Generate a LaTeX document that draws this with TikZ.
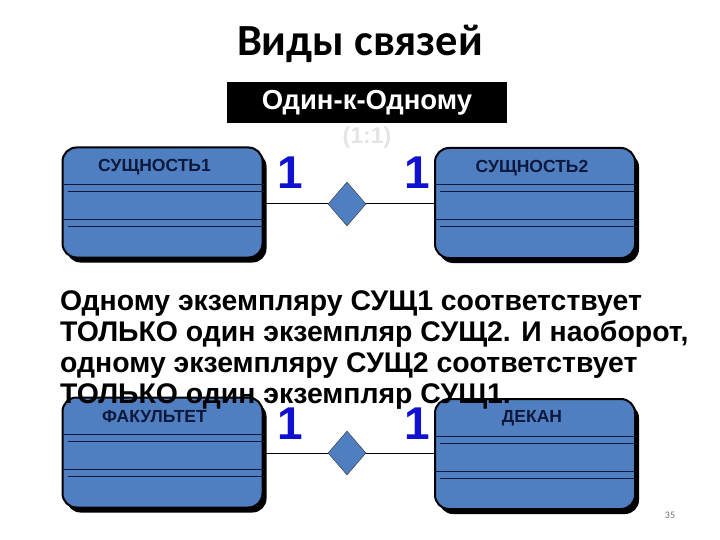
\documentclass[tikz,border=0pt]{standalone}
\usepackage{fontspec}
\newfontfamily\arialfont{Liberation Sans}
\newfontfamily\calibrifont{Carlito}
\usetikzlibrary{positioning,shapes.geometric,shadows,calc}

\definecolor{entblue}{RGB}{79,127,192}
\definecolor{entnavy}{RGB}{12,24,60}
\definecolor{onecolor}{RGB}{16,16,208}
\definecolor{ratiogray}{RGB}{228,228,228}

\begin{document}
\begin{tikzpicture}[
    x=1pt, y=-1pt,
    entity/.style={rectangle, rounded corners=14pt, draw=black, line width=2pt, fill=entblue,
        minimum width=200pt, minimum height=110pt, inner sep=0pt,
        drop shadow={shadow xshift=4pt, shadow yshift=-5pt, fill=black, opacity=1}},
    entlabel/.style={font=\arialfont\bfseries\fontsize{17.5}{19}\selectfont, text=entnavy, inner sep=0pt},
    relation/.style={diamond, draw=black!80, fill=entblue, minimum width=38pt, minimum height=44pt, inner sep=0pt},
    card/.style={font=\arialfont\bfseries\fontsize{46}{50}\selectfont, text=onecolor, inner sep=0pt},
    link/.style={draw=black, line width=1pt}
]
    \useasboundingbox (0,0) rectangle (720,540);

    % title
    \node[font=\calibrifont\bfseries\fontsize{44.5}{48}\selectfont] (title) at (360,44) {Виды связей};
    \node[fill=black, text=white, font=\arialfont\bfseries\fontsize{27.5}{30}\selectfont,
        minimum width=280pt, minimum height=41pt, inner sep=0pt] (kind) at (367,102.5) {Один-к-Одному};
    \node[text=ratiogray, font=\arialfont\bfseries\fontsize{23}{25}\selectfont, inner sep=0pt] (ratio) at (367,138) {(1:1)};

    % first pair
    \node[entity] (ent1) at (162.5,202.5) {};
    \node[entity] (ent2) at (535,203) {};
    \node[relation] (rel1) at (347,204) {};
    \draw[link] (ent1.east |- rel1) -- (rel1.west);
    \draw[link] (rel1.east) -- (ent2.west |- rel1);
    \node[entlabel] (lab1) at ($(ent1.north)+(-8,21)$) {СУЩНОСТЬ1};
    \node[entlabel] (lab2) at ($(ent2.north)+(-3,21)$) {СУЩНОСТЬ2};
    \node[card] (c11) at (290,173) {1};
    \node[card] (c12) at (417,173) {1};

    % second pair
    \node[entity] (ent3) at (162.5,452.5) {};
    \node[entity] (ent4) at (535,454) {};
    \node[relation] (rel2) at (347,453) {};
    \draw[link] (ent3.east |- rel2) -- (rel2.west);
    \draw[link] (rel2.east) -- (ent4.west |- rel2);
    \node[entlabel] (lab3) at ($(ent3.north)+(-8,20)$) {ФАКУЛЬТЕТ};
    \node[entlabel] (lab4) at ($(ent4.north)+(-3,20)$) {ДЕКАН};
    \node[card] (c21) at (290,424) {1};
    \node[card] (c22) at (417,424) {1};

    % attribute separators
    \foreach \e in {ent1,ent2,ent3,ent4}{
        \draw[entnavy, line width=1pt] ($(\e.north west)+(0,38)$) -- ($(\e.north east)+(0,38)$);
        \draw[entnavy, line width=1pt] ($(\e.north west)+(6,45)$) -- ($(\e.north east)+(0,45)$);
        \draw[entnavy, line width=1pt] ($(\e.north west)+(0,73)$) -- ($(\e.north east)+(0,73)$);
        \draw[entnavy, line width=1pt] ($(\e.north west)+(6,80)$) -- ($(\e.north east)+(0,80)$);
    }

    % explanation
    \node[anchor=north west, align=left, inner sep=0pt,
        font=\arialfont\bfseries\fontsize{28.4}{31}\selectfont] (note) at (60,290)
        {Одному экземпляру СУЩ1 соответствует\\
         ТОЛЬКО один экземпляр СУЩ2. И наоборот,\\
         одному экземпляру СУЩ2 соответствует\\
         ТОЛЬКО один экземпляр СУЩ1.};

    \node[text=black!55, font=\calibrifont\fontsize{10}{12}\selectfont] (page) at (670,515) {35};
\end{tikzpicture}
\end{document}
